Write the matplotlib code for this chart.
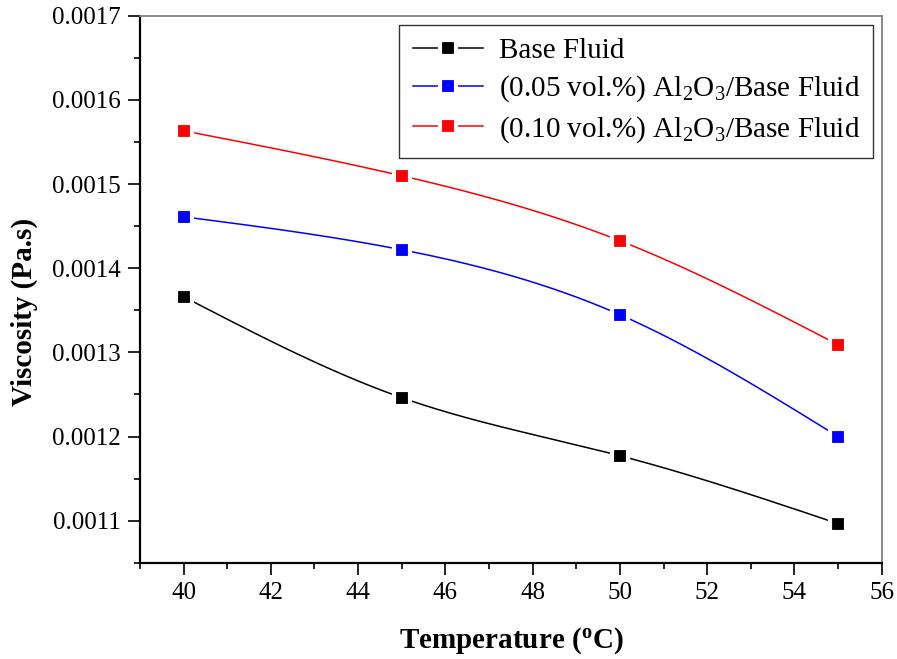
import matplotlib
matplotlib.use('Agg')
import matplotlib.pyplot as plt
import numpy as np
from matplotlib.ticker import MultipleLocator, FormatStrFormatter

# 데이터
temperature = [40, 45, 50, 55]
base_fluid = [0.0013662, 0.0012462, 0.0011772, 0.0010965]
al2o3_005 = [0.0014612, 0.0014220, 0.0013448, 0.0012000]
al2o3_010 = [0.0015634, 0.0015099, 0.0014327, 0.0013091]

labels = ['Base Fluid',
          r'(0.05 vol.%) Al$_2$O$_3$/Base Fluid',
          r'(0.10 vol.%) Al$_2$O$_3$/Base Fluid']
colors = ['black', 'blue', 'red']

plt.rcParams['font.family'] = ['Liberation Serif', 'DejaVu Serif']
plt.rcParams['mathtext.fontset'] = 'custom'
plt.rcParams['mathtext.rm'] = 'Liberation Serif'
plt.rcParams['mathtext.it'] = 'Liberation Serif:italic'
plt.rcParams['mathtext.bf'] = 'Liberation Serif:bold'


def natural_spline(x, y, n=200):
    # 자연 3차 스플라인 (곡선 그리기용)
    x = np.asarray(x, float)
    y = np.asarray(y, float)
    k = len(x)
    h = np.diff(x)
    A = np.zeros((k, k))
    b = np.zeros(k)
    A[0, 0] = A[-1, -1] = 1
    for i in range(1, k - 1):
        A[i, i - 1] = h[i - 1]
        A[i, i] = 2 * (h[i - 1] + h[i])
        A[i, i + 1] = h[i]
        b[i] = 6 * ((y[i + 1] - y[i]) / h[i] - (y[i] - y[i - 1]) / h[i - 1])
    M = np.linalg.solve(A, b)
    xs = np.linspace(x[0], x[-1], n)
    ys = np.empty_like(xs)
    for j, xv in enumerate(xs):
        i = min(np.searchsorted(x, xv, side='right') - 1, k - 2)
        t1 = x[i + 1] - xv
        t0 = xv - x[i]
        ys[j] = (M[i] * t1 ** 3 + M[i + 1] * t0 ** 3) / (6 * h[i]) \
            + (y[i] / h[i] - M[i] * h[i] / 6) * t1 \
            + (y[i + 1] / h[i] - M[i + 1] * h[i] / 6) * t0
    return xs, ys


fig = plt.figure(figsize=(8.97, 6.59), dpi=100)
ax = fig.add_axes([0.156, 0.146, 0.827, 0.830])

for series, c, lab in zip([base_fluid, al2o3_005, al2o3_010], colors, labels):
    xs, ys = natural_spline(temperature, series)
    ax.plot(xs, ys, color=c, lw=1.1)
    ax.plot(temperature, series, ls='none', marker='s', ms=11.5,
            mfc=c, mec='white', mew=3)
    # 범례용 핸들
    ax.plot([], [], color=c, lw=1.1, marker='s', ms=11.5,
            mfc=c, mec='white', mew=3, label=lab)

ax.set_xlim(39, 56)
ax.set_ylim(0.00105, 0.0017)
ax.xaxis.set_major_locator(MultipleLocator(2))
ax.xaxis.set_minor_locator(MultipleLocator(1))
ax.yaxis.set_major_locator(MultipleLocator(0.0001))
ax.yaxis.set_minor_locator(MultipleLocator(0.00005))
ax.yaxis.set_major_formatter(FormatStrFormatter('%.4f'))

ax.tick_params(which='both', direction='out', labelsize=18, width=1.2)
ax.tick_params(which='major', length=8.5, pad=5)
ax.tick_params(which='minor', length=4)
ax.tick_params(top=False, right=False)

ax.spines['left'].set_linewidth(1.6)
ax.spines['bottom'].set_linewidth(1.6)
ax.spines['top'].set_color('gray')
ax.spines['right'].set_color('gray')
ax.spines['top'].set_linewidth(1.3)
ax.spines['right'].set_linewidth(1.3)

ax.set_xlabel(r'Temperature ($^{\mathbf{o}}$C)', fontsize=21, fontweight='bold', labelpad=16)
ax.set_ylabel('Viscosity (Pa.s)', fontsize=21, fontweight='bold')
ax.yaxis.set_label_coords(-0.137, 0.459)

leg = ax.legend(loc='upper right', fontsize=21, frameon=True, fancybox=False,
                edgecolor='black', handlelength=2.4, borderaxespad=0.3,
                borderpad=0.45, labelspacing=0.33, handletextpad=0.55)
leg.get_frame().set_linewidth(1.0)

fig.savefig('out.png', dpi=100)
